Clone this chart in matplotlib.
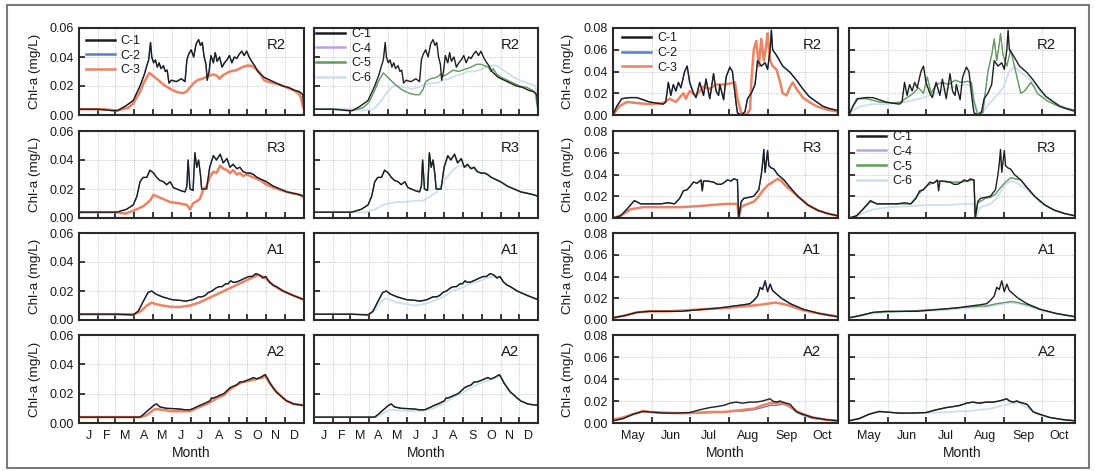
import numpy as np
import matplotlib
matplotlib.use('Agg')
import matplotlib.pyplot as plt
from matplotlib.patches import Rectangle

plt.rcParams['font.family'] = ['Liberation Sans', 'DejaVu Sans']

# ---------------- data (day of year, Chl-a mg/L) ----------------
# Left group: full year
L_R2_C1 = [(0,.004),(30,.004),(55,.003),(62,.003),(75,.006),(88,.010),(99,.020),(106,.028),(110,.034),(113,.038),(116,.050),(118,.040),(121,.036),(124,.038),(127,.033),(130,.036),(133,.032),(137,.034),(140,.030),(143,.031),(146,.022),(150,.024),(158,.023),(166,.025),(172,.023),(175,.038),(178,.042),(182,.045),(186,.040),(190,.049),(194,.052),(197,.048),(200,.050),(203,.040),(206,.035),(208,.024),(211,.030),(214,.041),(218,.036),(221,.043),(224,.037),(228,.040),(232,.033),(236,.036),(240,.038),(244,.041),(248,.036),(252,.040),(256,.039),(260,.042),(264,.044),(268,.041),(272,.044),(276,.040),(280,.037),(285,.034),(290,.030),(295,.028),(300,.026),(310,.024),(320,.022),(330,.020),(340,.019),(350,.017),(358,.016),(363,.014),(365,.004)]
L_R2_C3 = [(0,.004),(40,.004),(62,.003),(80,.005),(88,.008),(99,.016),(105,.022),(110,.026),(114,.029),(120,.027),(126,.025),(137,.021),(148,.018),(158,.016),(168,.015),(174,.016),(180,.019),(186,.022),(192,.024),(200,.025),(210,.027),(218,.028),(224,.027),(228,.025),(232,.027),(240,.029),(245,.030),(256,.031),(265,.033),(272,.034),(280,.034),(286,.032),(292,.030),(296,.027),(300,.024),(306,.023),(315,.022),(326,.021),(337,.019),(348,.017),(356,.015),(360,.012),(363,.006),(365,.004)]
L_R2_C5 = [(0,.004),(40,.004),(62,.003),(80,.005),(90,.009),(100,.018),(106,.024),(110,.027),(113,.029),(118,.027),(125,.024),(135,.020),(145,.017),(155,.015),(165,.014),(172,.014),(178,.018),(182,.023),(190,.025),(200,.026),(206,.028),(212,.027),(220,.029),(227,.031),(235,.030),(242,.031),(249,.032),(256,.033),(265,.035),(272,.035),(278,.034),(284,.033),(288,.030),(292,.032),(298,.028),(305,.026),(315,.024),(325,.022),(335,.020),(347,.019),(356,.017),(361,.015),(363,.008),(365,.003)]
L_R2_C6 = [(0,.004),(60,.004),(80,.003),(95,.004),(102,.006),(110,.010),(118,.015),(124,.018),(130,.020),(140,.020),(150,.019),(160,.018),(170,.019),(180,.021),(190,.022),(200,.022),(210,.024),(220,.025),(230,.027),(240,.028),(250,.030),(260,.030),(270,.031),(280,.033),(290,.034),(298,.034),(305,.032),(315,.029),(325,.026),(335,.024),(347,.022),(356,.021),(361,.020),(363,.010),(365,.003)]

L_R3_C1 = [(0,.004),(55,.004),(61,.004),(77,.006),(88,.009),(94,.015),(99,.025),(104,.028),(110,.028),(115,.033),(121,.031),(126,.028),(131,.026),(137,.025),(142,.023),(148,.025),(153,.021),(164,.019),(172,.018),(175,.022),(177,.040),(180,.020),(185,.019),(188,.045),(191,.035),(194,.040),(197,.030),(199,.020),(207,.020),(212,.035),(218,.043),(223,.040),(229,.044),(234,.038),(240,.041),(245,.035),(250,.037),(256,.034),(261,.035),(266,.032),(272,.031),(278,.031),(283,.030),(289,.028),(294,.027),(304,.025),(315,.022),(326,.020),(337,.018),(348,.017),(358,.016),(365,.015)]
L_R3_C3 = [(0,.004),(60,.004),(75,.003),(88,.005),(104,.008),(115,.012),(121,.016),(126,.015),(137,.013),(148,.011),(164,.010),(175,.009),(180,.006),(185,.010),(196,.013),(202,.020),(207,.022),(212,.028),(218,.032),(223,.031),(229,.036),(234,.034),(240,.033),(245,.031),(250,.033),(256,.030),(261,.031),(266,.029),(272,.030),(283,.028),(294,.026),(304,.023),(315,.021),(337,.018),(358,.016),(365,.014)]
L_R3_C6 = [(0,.004),(60,.004),(85,.004),(100,.006),(112,.009),(121,.010),(135,.011),(150,.011),(165,.012),(178,.012),(190,.015),(200,.018),(208,.023),(215,.027),(222,.031),(229,.034),(236,.036),(242,.036),(250,.035),(258,.034),(266,.032),(276,.031),(288,.028),(300,.026),(315,.022),(337,.018),(358,.016),(365,.015)]

L_A1_C1 = [(0,.004),(60,.004),(88,.0035),(96,.006),(102,.011),(107,.015),(112,.019),(118,.020),(124,.018),(135,.016),(151,.014),(165,.0135),(173,.013),(184,.014),(194,.016),(200,.016),(205,.017),(210,.019),(216,.020),(222,.022),(227,.023),(232,.023),(238,.025),(242,.025),(246,.027),(250,.026),(254,.026),(260,.027),(265,.028),(270,.029),(276,.030),(281,.030),(287,.032),(293,.031),(298,.029),(303,.030),(309,.026),(315,.024),(320,.023),(331,.020),(347,.017),(365,.014)]
L_A1_C3 = [(0,.004),(60,.004),(90,.004),(100,.006),(110,.010),(118,.012),(124,.011),(135,.010),(150,.009),(165,.009),(180,.010),(195,.012),(210,.015),(225,.018),(240,.021),(255,.024),(270,.027),(280,.029),(290,.031),(298,.030),(305,.028),(315,.024),(331,.020),(347,.017),(365,.014)]
L_A1_C6 = [(0,.004),(60,.004),(92,.004),(100,.007),(108,.012),(116,.015),(124,.014),(135,.012),(150,.011),(165,.010),(180,.011),(195,.013),(210,.016),(225,.020),(240,.022),(255,.025),(270,.027),(282,.029),(292,.030),(300,.030),(308,.027),(315,.024),(331,.020),(347,.017),(365,.014)]

L_A2_C1 = [(0,.004),(60,.004),(99,.004),(105,.006),(110,.008),(116,.010),(121,.012),(126,.013),(131,.011),(142,.010),(153,.0098),(164,.0095),(172,.009),(180,.009),(186,.010),(191,.011),(196,.012),(202,.013),(207,.014),(212,.015),(215,.017),(218,.017),(224,.018),(229,.019),(235,.020),(240,.022),(245,.024),(250,.025),(256,.026),(261,.028),(266,.028),(272,.029),(278,.030),(283,.031),(288,.030),(294,.031),(298,.032),(302,.033),(305,.031),(310,.027),(315,.024),(320,.021),(326,.019),(331,.017),(337,.015),(343,.014),(348,.013),(356,.0125),(365,.012)]
L_A2_C3 = [(0,.004),(60,.004),(100,.004),(108,.005),(115,.007),(121,.009),(126,.0095),(135,.009),(150,.008),(165,.008),(180,.008),(190,.010),(202,.012),(212,.014),(224,.017),(235,.019),(245,.023),(256,.026),(266,.028),(278,.029),(288,.030),(298,.031),(302,.032),(305,.030),(310,.027),(315,.024),(326,.019),(337,.015),(348,.013),(365,.012)]
L_A2_C6 = [(0,.004),(60,.004),(102,.004),(110,.006),(118,.008),(126,.009),(140,.0085),(160,.008),(180,.0085),(195,.010),(210,.013),(225,.017),(240,.020),(255,.024),(270,.027),(285,.029),(298,.031),(303,.032),(308,.029),(315,.024),(326,.019),(337,.015),(348,.013),(365,.012)]

# Right group: May - October
R_R2_C1 = [(121,.000),(124,.008),(128,.015),(134,.016),(140,.016),(145,.014),(150,.012),(155,.011),(161,.010),(163,.012),(165,.030),(167,.018),(169,.028),(171,.022),(173,.030),(175,.025),(178,.040),(180,.045),(182,.030),(185,.020),(187,.016),(190,.030),(193,.018),(195,.033),(198,.015),(201,.038),(203,.022),(205,.018),(206,.028),(209,.014),(211,.035),(214,.044),(216,.040),(219,.010),(220,.002),(223,.000),(226,.003),(228,.015),(231,.020),(234,.028),(236,.050),(239,.045),(242,.048),(244,.042),(246,.060),(247,.078),(248,.060),(251,.055),(256,.045),(262,.039),(267,.032),(272,.024),(277,.017),(283,.012),(288,.008),(293,.006),(300,.004)]
R_R2_C3 = [(121,.000),(126,.008),(132,.012),(140,.011),(150,.010),(161,.011),(166,.015),(171,.012),(177,.020),(179,.015),(182,.022),(187,.018),(193,.026),(198,.024),(203,.028),(209,.028),(214,.029),(218,.030),(220,.015),(223,.002),(227,.000),(230,.005),(231,.030),(233,.060),(235,.068),(237,.045),(239,.070),(241,.050),(243,.065),(244,.075),(246,.050),(248,.045),(251,.042),(254,.030),(256,.020),(259,.018),(262,.026),(264,.030),(267,.024),(272,.016),(277,.012),(283,.008),(291,.005),(300,.003)]
R_R2_C5 = [(121,.000),(127,.015),(135,.015),(145,.012),(155,.011),(162,.012),(167,.016),(172,.020),(176,.025),(180,.020),(183,.035),(186,.020),(190,.028),(195,.030),(200,.028),(205,.032),(210,.030),(215,.031),(218,.030),(220,.012),(223,.000),(227,.002),(231,.040),(234,.055),(236,.070),(238,.050),(240,.065),(241,.075),(243,.055),(246,.045),(249,.060),(252,.045),(254,.035),(257,.020),(260,.022),(262,.025),(265,.030),(268,.025),(270,.020),(278,.013),(285,.009),(292,.006),(300,.003)]
R_R2_C6 = [(121,.002),(130,.008),(140,.010),(150,.010),(160,.011),(170,.013),(180,.016),(190,.020),(200,.025),(210,.027),(216,.028),(220,.015),(223,.002),(227,.003),(232,.010),(238,.018),(243,.025),(248,.040),(252,.045),(256,.040),(262,.035),(268,.028),(275,.018),(283,.012),(292,.007),(300,.004)]

R_R3_C1 = [(121,.000),(127,.002),(132,.008),(138,.016),(143,.013),(150,.013),(159,.013),(165,.014),(170,.013),(174,.018),(177,.025),(180,.026),(183,.030),(185,.033),(188,.032),(191,.035),(192,.025),(193,.034),(196,.034),(201,.033),(204,.031),(207,.031),(210,.033),(212,.035),(215,.034),(217,.036),(220,.035),(221,.000),(223,.015),(225,.018),(229,.019),(233,.020),(237,.026),(239,.040),(240,.050),(241,.063),(242,.042),(244,.062),(245,.048),(247,.046),(249,.045),(252,.040),(257,.035),(262,.028),(268,.020),(276,.012),(284,.007),(292,.004),(300,.002)]
R_R3_C3 = [(121,.000),(127,.002),(135,.008),(145,.010),(160,.010),(175,.010),(190,.011),(200,.012),(212,.013),(220,.013),(221,.000),(223,.010),(226,.012),(233,.015),(237,.020),(240,.025),(244,.030),(248,.033),(252,.036),(255,.034),(258,.030),(262,.026),(268,.020),(276,.012),(284,.007),(292,.004),(300,.002)]
R_R3_C5 = [(121,.000),(127,.002),(132,.008),(138,.015),(143,.013),(160,.013),(170,.013),(176,.022),(183,.030),(191,.034),(200,.033),(210,.033),(220,.035),(221,.000),(223,.014),(229,.018),(233,.019),(237,.022),(241,.028),(245,.033),(249,.037),(253,.036),(257,.035),(262,.028),(268,.020),(276,.012),(284,.007),(292,.004),(300,.002)]
R_R3_C6 = [(121,.000),(127,.002),(140,.008),(155,.010),(170,.011),(185,.012),(200,.012),(212,.013),(220,.013),(221,.000),(225,.010),(233,.013),(238,.018),(244,.030),(249,.034),(254,.032),(260,.028),(266,.022),(272,.015),(280,.009),(290,.005),(300,.002)]

R_A1_C1 = [(121,.002),(130,.004),(140,.007),(150,.008),(165,.008),(175,.008),(185,.009),(195,.010),(205,.011),(212,.012),(218,.013),(225,.014),(230,.015),(233,.018),(236,.022),(238,.030),(240,.028),(242,.036),(244,.026),(246,.033),(248,.027),(251,.024),(255,.020),(262,.015),(272,.010),(285,.006),(300,.003)]
R_A1_C3 = [(121,.002),(130,.004),(140,.007),(150,.008),(165,.008),(180,.009),(195,.010),(210,.011),(220,.012),(230,.013),(238,.014),(244,.015),(250,.016),(255,.015),(262,.013),(272,.009),(285,.006),(300,.003)]
R_A1_C5 = [(121,.002),(140,.007),(165,.008),(195,.010),(215,.012),(230,.013),(238,.015),(244,.016),(250,.017),(255,.016),(262,.014),(272,.010),(285,.006),(300,.003)]
R_A1_C6 = [(121,.002),(135,.005),(150,.007),(170,.008),(195,.009),(215,.011),(230,.012),(240,.014),(248,.016),(255,.015),(262,.013),(272,.009),(285,.006),(300,.003)]

R_A2_C1 = [(121,.002),(129,.004),(137,.008),(145,.0105),(150,.010),(161,.009),(171,.009),(182,.0095),(190,.012),(198,.014),(204,.015),(209,.016),(214,.018),(219,.019),(224,.018),(230,.019),(235,.019),(240,.020),(243,.021),(246,.022),(248,.020),(251,.019),(254,.020),(256,.019),(259,.018),(262,.017),(267,.010),(272,.008),(280,.005),(291,.003),(300,.002)]
R_A2_C2 = [(121,.002),(129,.004),(137,.008),(145,.0105),(150,.010),(161,.009),(171,.009),(182,.009),(190,.009),(200,.0095),(209,.010),(217,.0105),(225,.011),(233,.012),(240,.014),(246,.016),(251,.016),(256,.017),(259,.016),(262,.014),(267,.010),(272,.007),(280,.004),(290,.003),(300,.002)]
R_A2_C3 = [(121,.003),(129,.005),(137,.008),(145,.011),(150,.010),(161,.0095),(171,.009),(182,.009),(190,.0095),(200,.010),(209,.010),(217,.011),(225,.012),(233,.013),(240,.016),(246,.018),(251,.018),(256,.018),(259,.017),(262,.015),(267,.011),(272,.008),(280,.005),(290,.003),(300,.002)]
R_A2_C6 = [(121,.002),(129,.004),(137,.008),(145,.0105),(161,.009),(182,.009),(200,.010),(217,.011),(233,.013),(243,.016),(250,.018),(256,.018),(262,.014),(267,.010),(272,.007),(285,.004),(300,.002)]

ROW_LABELS = ['R2', 'R3', 'A1', 'A2']
LEFT_MONTHS = ['J', 'F', 'M', 'A', 'M', 'J', 'J', 'A', 'S', 'O', 'N', 'D']
RIGHT_MONTHS = ['May', 'Jun', 'Jul', 'Aug', 'Sep', 'Oct']

# C-2 and C-4 lie beneath C-1 / C-5 where they are not separately visible
PANELS = {
    (0, 0): {'C-2': L_R2_C1, 'C-3': L_R2_C3, 'C-1': L_R2_C1},
    (0, 1): {'C-6': L_R2_C6, 'C-4': L_R2_C5, 'C-5': L_R2_C5, 'C-1': L_R2_C1},
    (0, 2): {'C-2': R_R2_C1, 'C-3': R_R2_C3, 'C-1': R_R2_C1},
    (0, 3): {'C-6': R_R2_C6, 'C-4': R_R2_C5, 'C-5': R_R2_C5, 'C-1': R_R2_C1},
    (1, 0): {'C-2': L_R3_C1, 'C-3': L_R3_C3, 'C-1': L_R3_C1},
    (1, 1): {'C-6': L_R3_C6, 'C-4': L_R3_C1, 'C-5': L_R3_C1, 'C-1': L_R3_C1},
    (1, 2): {'C-2': R_R3_C1, 'C-3': R_R3_C3, 'C-1': R_R3_C1},
    (1, 3): {'C-6': R_R3_C6, 'C-4': R_R3_C5, 'C-5': R_R3_C5, 'C-1': R_R3_C1},
    (2, 0): {'C-2': L_A1_C1, 'C-3': L_A1_C3, 'C-1': L_A1_C1},
    (2, 1): {'C-6': L_A1_C6, 'C-4': L_A1_C1, 'C-5': L_A1_C1, 'C-1': L_A1_C1},
    (2, 2): {'C-2': R_A1_C1, 'C-3': R_A1_C3, 'C-1': R_A1_C1},
    (2, 3): {'C-6': R_A1_C6, 'C-4': R_A1_C5, 'C-5': R_A1_C5, 'C-1': R_A1_C1},
    (3, 0): {'C-2': L_A2_C1, 'C-3': L_A2_C3, 'C-1': L_A2_C1},
    (3, 1): {'C-6': L_A2_C6, 'C-4': L_A2_C1, 'C-5': L_A2_C1, 'C-1': L_A2_C1},
    (3, 2): {'C-2': R_A2_C2, 'C-3': R_A2_C3, 'C-1': R_A2_C1},
    (3, 3): {'C-6': R_A2_C6, 'C-4': R_A2_C1, 'C-5': R_A2_C1, 'C-1': R_A2_C1},
}

STYLE = {
    'C-1': dict(color='#1e1e1e', lw=1.0),
    'C-2': dict(color='#4f80d8', lw=0.9),
    'C-3': dict(color='#ee8262', lw=1.8),
    'C-4': dict(color='#b9a3e3', lw=0.8),
    'C-5': dict(color='#5c9f55', lw=0.9),
    'C-6': dict(color='#cddfee', lw=1.3),
}
LEGEND_ORDER = {0: ['C-1', 'C-2', 'C-3'], 1: ['C-1', 'C-4', 'C-5', 'C-6'],
                2: ['C-1', 'C-2', 'C-3'], 3: ['C-1', 'C-4', 'C-5', 'C-6']}
# (row, col) -> legend anchor (axes coords)
LEGENDS = {(0, 0): (0.03, 0.92), (0, 1): (0.01, 1.0), (0, 2): (0.04, 0.95), (1, 3): (0.035, 1.0)}

# ---------------- layout ----------------
W, H = 1095, 471
fig = plt.figure(figsize=(W / 100, H / 100), dpi=100)
fig.patch.set_facecolor('white')

COLS = [(79, 304), (314, 538), (613, 838), (849, 1075)]
ROWS = [(28, 115), (131, 218), (233, 320), (335, 423)]
YLABEL_X = {0: 35, 2: 568}
DARK = '#2a2a2a'
TXT = '#1a1a1a'

LEFT_MAJOR = [31, 59, 90, 120, 151, 181, 212, 243, 273, 304, 334]
LEFT_MID = [15.5, 45, 74.5, 105, 135.5, 166, 196.5, 227.5, 258, 288.5, 319, 349.5]
RIGHT_MAJOR = [152, 182, 213, 244, 274]
RIGHT_MID = [136.5, 167, 197.5, 228.5, 259, 287.5]

for (r, c), series in PANELS.items():
    x0, x1 = COLS[c]
    y0, y1 = ROWS[r]
    ax = fig.add_axes([x0 / W, 1 - y1 / H, (x1 - x0) / W, (y1 - y0) / H])
    handles = {}
    for name, pts in series.items():
        arr = np.array(pts)
        ln, = ax.plot(arr[:, 0], arr[:, 1], label=name, solid_joinstyle='round', **STYLE[name])
        handles[name] = ln
    if c < 2:
        ax.set_xlim(0, 365)
        ax.set_ylim(0, 0.06)
        ax.set_xticks(LEFT_MAJOR)
        ax.set_xticks(LEFT_MID, minor=True)
        ax.set_xticklabels([])
        if r == 3:
            ax.set_xticklabels(LEFT_MONTHS, minor=True)
        yt = [0, 0.02, 0.04, 0.06]
    else:
        ax.set_xlim(121, 300)
        ax.set_ylim(0, 0.08)
        ax.set_xticks(RIGHT_MAJOR)
        ax.set_xticks(RIGHT_MID, minor=True)
        ax.set_xticklabels([])
        if r == 3:
            ax.set_xticklabels(RIGHT_MONTHS, minor=True)
        yt = [0, 0.02, 0.04, 0.06, 0.08]
    ax.set_yticks(yt)
    if c in (0, 2):
        ax.set_yticklabels(['%.2f' % v for v in yt])
        ax.set_ylabel('Chl-a (mg/L)', fontsize=9.7, color=TXT)
        ax.yaxis.set_label_coords(-(x0 - (YLABEL_X[c] + 6)) / (x1 - x0), 0.5)
    else:
        ax.set_yticklabels([])
    ax.tick_params(which='major', direction='in', length=4, width=1.3, color=DARK,
                   labelsize=9, pad=4, top=False, right=False, labelcolor=TXT)
    ax.tick_params(which='minor', length=0, labelsize=9, pad=5, labelcolor=TXT)
    ax.grid(True, which='major', ls=(0, (1.5, 1.5)), color='#c4c4c4', lw=0.6)
    ax.set_axisbelow(True)
    for sp in ax.spines.values():
        sp.set_color(DARK)
        sp.set_linewidth(1.5)
    ax.text(0.875 if c != 2 else 0.885, 0.81, ROW_LABELS[r], transform=ax.transAxes,
            ha='center', va='center', fontsize=10.7, color=TXT)
    if r == 3:
        ax.set_xlabel('Month', fontsize=10, color=TXT)
        ax.xaxis.set_label_coords(0.5, -(446 - 423) / (y1 - y0))
    if (r, c) in LEGENDS:
        names = LEGEND_ORDER[c]
        leg = ax.legend([handles[n] for n in names], names, loc='upper left',
                        bbox_to_anchor=LEGENDS[(r, c)], frameon=False, fontsize=9,
                        handlelength=2.3, handletextpad=0.5, labelspacing=0.22,
                        borderpad=0, borderaxespad=0)
        for t in leg.get_texts():
            t.set_color(TXT)
        for ln in leg.get_lines():
            ln.set_linewidth(1.8)

# outer frame
fig.add_artist(Rectangle((7 / W, 1 - 468 / H), (1089 - 7) / W, (468 - 5) / H,
                         fill=False, ec='#7a7a7a', lw=1.5, transform=fig.transFigure))

fig.savefig('out.png', dpi=100, facecolor='white')
